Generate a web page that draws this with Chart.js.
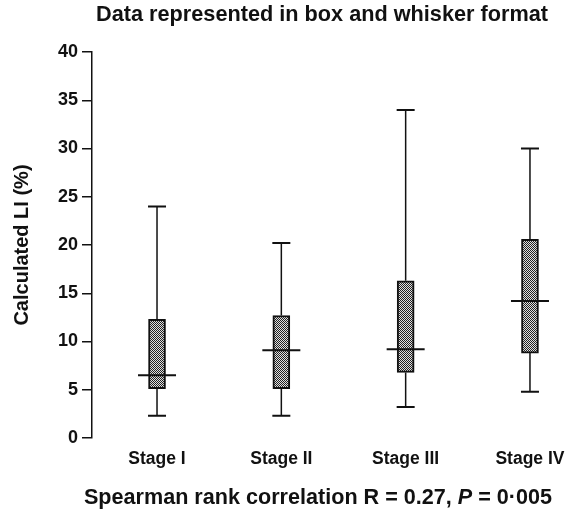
<!DOCTYPE html>
<html>
<head>
<meta charset="utf-8">
<script src="https://cdn.jsdelivr.net/npm/chart.js@4.4.1/dist/chart.umd.min.js"></script>
<style>
  html, body { margin: 0; padding: 0; background: #fff; }
  #myChart { display: block; }
</style>
</head>
<body>
<canvas id="myChart" width="566" height="511"></canvas>
<script>
const categories = ['Stage I', 'Stage II', 'Stage III', 'Stage IV'];
const whiskerLow = [2.3, 2.3, 3.2, 4.8];
const q1 = [5.1, 5.1, 6.8, 8.8];
const median = [6.5, 9.1, 9.2, 14.2];
const q3 = [12.3, 12.7, 16.3, 20.6];
const whiskerHigh = [24, 20.2, 34, 30];
const yTicks = [0, 5, 10, 15, 20, 25, 30, 35, 40];

const FONT = "'Liberation Sans', Arial, Helvetica, sans-serif";

// checker pattern for the boxes
const makePattern = () => {
  const c = document.createElement('canvas');
  c.width = 2; c.height = 2;
  const g = c.getContext('2d');
  g.fillStyle = '#e0e0e0';
  g.fillRect(0, 0, 2, 2);
  g.fillStyle = '#222';
  g.fillRect(0, 0, 1, 1);
  g.fillRect(1, 1, 1, 1);
  return g.createPattern(c, 'repeat');
}

const whiskers = {
  id: 'whiskers',
  beforeDatasetsDraw(chart) {
    const {ctx, scales: {x, y}} = chart;
    ctx.save();
    ctx.strokeStyle = '#111';
    ctx.lineWidth = 1.5;
    categories.forEach((c, i) => {
      const px = x.getPixelForValue(i + 1);
      ctx.beginPath();
      ctx.moveTo(px, y.getPixelForValue(whiskerHigh[i]));
      ctx.lineTo(px, y.getPixelForValue(q3[i]));
      ctx.moveTo(px, y.getPixelForValue(q1[i]));
      ctx.lineTo(px, y.getPixelForValue(whiskerLow[i]));
      ctx.stroke();
      // caps
      ctx.lineWidth = 2;
      ctx.beginPath();
      [whiskerHigh[i], whiskerLow[i]].forEach(v => {
        const py = y.getPixelForValue(v);
        ctx.moveTo(px - 9, py);
        ctx.lineTo(px + 9, py);
      });
      ctx.stroke();
      ctx.lineWidth = 1.5;
    });
    ctx.restore();
  },
  afterDatasetsDraw(chart) {
    const {ctx, scales: {x, y}} = chart;
    ctx.save();
    ctx.strokeStyle = '#111';
    ctx.lineWidth = 2;
    categories.forEach((c, i) => {
      const px = x.getPixelForValue(i + 1);
      const py = y.getPixelForValue(median[i]);
      ctx.beginPath();
      ctx.moveTo(px - 19, py);
      ctx.lineTo(px + 19, py);
      ctx.stroke();
    });
    ctx.restore();
  }
};

// footnote under the axis, with italic P
const footnote = {
  id: 'footnote',
  afterDraw(chart) {
    const {ctx} = chart;
    const parts = [
      ['Spearman rank correlation R = 0.27, ', 'bold 21.6px ' + FONT],
      ['P', 'italic bold 21.6px ' + FONT],
      [' = 0\u00b7005', 'bold 21.6px ' + FONT],
    ];
    ctx.save();
    let total = 0;
    parts.forEach(p => { ctx.font = p[1]; total += ctx.measureText(p[0]).width; });
    let cx = 318 - total / 2;
    ctx.fillStyle = '#111';
    ctx.textBaseline = 'alphabetic';
    parts.forEach(p => {
      ctx.font = p[1];
      ctx.fillText(p[0], cx, 504);
      cx += ctx.measureText(p[0]).width;
    });
    ctx.restore();
  }
};

const ctx = document.getElementById('myChart').getContext('2d');
new Chart(ctx, {
  type: 'bar',
  data: {
    datasets: [{
      data: categories.map((c, i) => ({x: i + 1, y: [q1[i], q3[i]]})),
      backgroundColor: makePattern(),
      borderColor: '#111',
      borderWidth: 2,
      borderSkipped: false,
      barThickness: 17,
      grouped: false
    }]
  },
  options: {
    responsive: false,
    devicePixelRatio: 1,
    animation: false,
    layout: { padding: { left: 0, right: 18, top: 0, bottom: 0 } },
    plugins: {
      legend: { display: false },
      tooltip: { enabled: false },
      title: {
        display: true,
        text: 'Data represented in box and whisker format',
        align: 'end',
        color: '#111',
        font: { family: FONT, size: 21.7, weight: 'bold' },
        padding: { top: 2, bottom: 24 }
      }
    },
    scales: {
      x: {
        type: 'linear',
        offset: false,
        min: 0.477,
        max: 4.145,
        grid: { display: false, drawTicks: false },
        border: { display: false },
        afterBuildTicks: (scale) => { scale.ticks = categories.map((c, i) => ({value: i + 1})); },
        afterFit: (scale) => {
          scale.height = 73;
          scale.paddingLeft = 0;
          scale.paddingRight = 0;
        },
        ticks: {
          color: '#111',
          padding: 11,
          maxRotation: 0,
          font: { family: FONT, size: 17.5, weight: 'bold' },
          callback: (v) => categories[v - 1]
        }
      },
      y: {
        min: 0,
        max: 40,
        afterBuildTicks: (scale) => { scale.ticks = yTicks.map(v => ({value: v})); },
        afterFit: (scale) => { scale.width = 92; },
        grid: { drawOnChartArea: false, drawTicks: true, tickLength: 10, color: '#111', lineWidth: 1.5 },
        border: { display: true, color: '#111', width: 1.5 },
        ticks: {
          color: '#111',
          padding: 4,
          font: { family: FONT, size: 18, weight: 'bold' }
        },
        title: {
          display: true,
          text: 'Calculated LI (%)',
          color: '#111',
          font: { family: FONT, size: 20, weight: 'bold' },
          padding: { top: 10, bottom: 0 }
        }
      }
    }
  },
  plugins: [whiskers, footnote]
});
</script>
</body>
</html>
